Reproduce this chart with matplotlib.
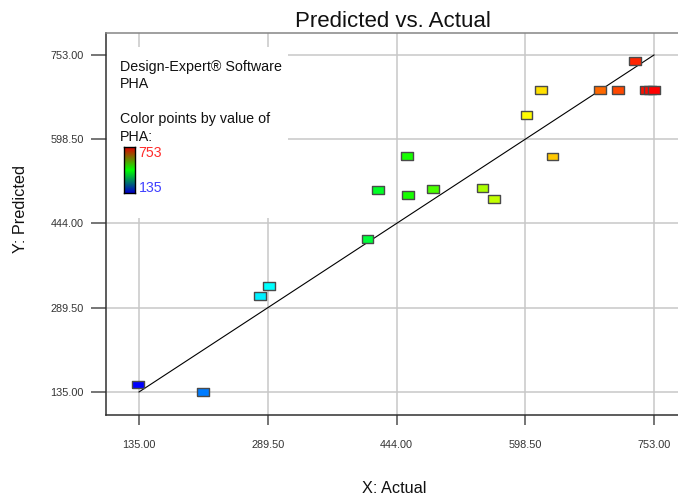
import matplotlib.pyplot as plt
import numpy as np
from matplotlib.colors import LinearSegmentedColormap
from matplotlib.patches import Rectangle

# фактические и предсказанные значения PHA
actual = [134.2, 212.1, 280.1, 290.6, 409.3, 421.6, 456.4, 457.6, 488.0, 547.2,
          560.8, 600.0, 617.5, 631.2, 688.0, 709.5, 730.2, 743.0, 748.0, 752.7]
predicted = [148.8, 135.0, 311.7, 329.9, 414.8, 505.3, 567.8, 496.7, 506.6, 508.4,
             488.4, 643.2, 688.0, 566.7, 688.0, 688.0, 741.6, 688.0, 688.0, 688.0]
tick_values = [135.00, 289.50, 444.00, 598.50, 753.00]
tick_labels = ["135.00", "289.50", "444.00", "598.50", "753.00"]
pha_min, pha_max = 135, 753

W, H = 678, 498


# перевод пикселей в доли фигуры
def fx(x):
    return x / W


def fy(y):
    return 1 - y / H


plt.rcParams['font.family'] = ['Liberation Sans', 'DejaVu Sans']

fig = plt.figure(figsize=(W / 100, H / 100), dpi=100)
ax = fig.add_axes([fx(106), fy(414.5), fx(700) - fx(106), fy(33) - fy(414.5)])
ax.set_xlim(95.4, 808.2)
ax.set_ylim(93.7, 793.3)

# сетка и рамка
ax.set_axisbelow(True)
ax.grid(True, color='#c8c8c8', linewidth=1.1)
ax.spines['left'].set_color('#303030')
ax.spines['bottom'].set_color('#303030')
ax.spines['top'].set_color('#858585')
ax.spines['right'].set_visible(False)
for s in ['left', 'bottom', 'top']:
    ax.spines[s].set_linewidth(1.1)

ax.set_xticks(tick_values)
ax.set_xticklabels(tick_labels)
ax.set_yticks(tick_values)
ax.set_yticklabels(tick_labels)
ax.tick_params(axis='x', direction='out', length=7, width=1.1, color='#505050',
               pad=11, labelsize=7.8, labelcolor='#333333')
ax.tick_params(axis='y', direction='out', length=11, width=1.1, color='#505050',
               pad=5, labelsize=7.8, labelcolor='#333333')

# цвет точек по значению PHA
point_cmap = LinearSegmentedColormap.from_list(
    "pha", ['#0000ff', '#00ffff', '#00ff00', '#ffff00', '#ff0000'])
colors = point_cmap((np.array(actual) - pha_min) / (pha_max - pha_min))

# линия y = x
ax.plot([pha_min, pha_max], [pha_min, pha_max], color='black', linewidth=0.8, zorder=2)

rect_marker = [(-1.5, -1), (1.5, -1), (1.5, 1), (-1.5, 1), (-1.5, -1)]
ax.scatter(actual, predicted, marker=rect_marker, s=72, c=colors,
           edgecolors='#4a4a4a', linewidths=1.0, zorder=3)

# белая подложка под подписью
ax.add_patch(Rectangle((fx(106) + 0.001, fy(218)), fx(287) - fx(106), fy(47) - fy(218),
                       transform=fig.transFigure, facecolor='white', edgecolor='none',
                       zorder=1))

fig.text(fx(120), fy(70.7), "Design-Expert® Software", fontsize=10.3, color='#111111')
fig.text(fx(120), fy(88), "PHA", fontsize=10.3, color='#111111')
fig.text(fx(120), fy(123.3), "Color points by value of", fontsize=10.3, color='#111111')
fig.text(fx(120), fy(140.7), "PHA:", fontsize=10.3, color='#111111')
fig.text(fx(138.5), fy(157.3), "753", fontsize=10.2, color='#ff2a2a')
fig.text(fx(138.5), fy(192.3), "135", fontsize=10.2, color='#4040ff')

# цветовая шкала
cax = fig.add_axes([fx(124), fy(192.7), fx(135) - fx(124), fy(146.7) - fy(192.7)])
bar_cmap = LinearSegmentedColormap.from_list("bar", ['#0000c8', '#00ff00', '#e00000'])
cax.imshow(np.linspace(1, 0, 100).reshape(-1, 1), aspect='auto', cmap=bar_cmap)
cax.set_xticks([])
cax.set_yticks([])
for s in cax.spines.values():
    s.set_color('black')
    s.set_linewidth(1.0)

# заголовок и подписи осей
fig.text(fx(393), fy(27.3), "Predicted vs. Actual", fontsize=16, ha='center', color='#111111')
fig.text(fx(394), fy(493.3), "X: Actual", fontsize=11.7, ha='center', color='#111111')
fig.text(fx(21), fy(209), "Y: Predicted", fontsize=11.7, rotation=90,
         ha='center', va='center', color='#111111')

fig.savefig("out.png", dpi=100)
